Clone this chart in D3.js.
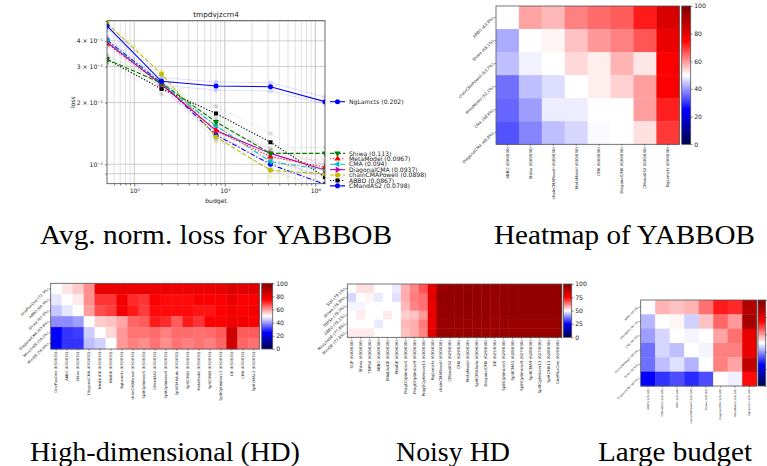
<!DOCTYPE html>
<html><head><meta charset="utf-8">
<script src="https://cdn.jsdelivr.net/npm/d3@7"></script>
<style>body{margin:0;background:#fff}svg{display:block}</style>
</head><body><svg id="c" width="767" height="466"></svg>
<script>
// ---------------- DATA ----------------
const budgets = [50, 200, 800, 3200, 12800];
const methods = ["NgLamcts","Shiwa","MetaModel","CMA","DiagonalCMA","chainCMAPowell","ABBO","CMandAS2"];
const scores  = ["0.202","0.113","0.0967","0.094","0.0937","0.0898","0.0867","0.0798"];
const lossNgLamcts       = [0.473, 0.254, 0.241, 0.239, 0.202];
const lossShiwa          = [0.325, 0.249, 0.161, 0.113, 0.113];
const lossMetaModel      = [0.388, 0.246, 0.146, 0.109, 0.0967];
const lossCMA            = [0.400, 0.247, 0.154, 0.103, 0.094];
const lossDiagonalCMA    = [0.394, 0.245, 0.146, 0.113, 0.0937];
const lossChainCMAPowell = [0.487, 0.276, 0.136, 0.0935, 0.0898];
const lossABBO           = [0.325, 0.233, 0.177, 0.128, 0.0867];
const lossCMandAS2       = [0.404, 0.249, 0.139, 0.100, 0.0798];
// faint spread lines (upper / lower)
const hiNgLamcts = [0.490, 0.265, 0.252, 0.250, 0.213], loNgLamcts = [0.455, 0.243, 0.230, 0.228, 0.197];
const hiShiwa = [0.337, 0.257, 0.168, 0.120, 0.121], loShiwa = [0.313, 0.240, 0.154, 0.106, 0.105];
const hiMetaModel = [0.400, 0.255, 0.153, 0.116, 0.103], loMetaModel = [0.375, 0.237, 0.139, 0.102, 0.090];
const hiCMA = [0.414, 0.256, 0.161, 0.109, 0.100], loCMA = [0.387, 0.238, 0.147, 0.097, 0.088];
const hiDiagonalCMA = [0.407, 0.254, 0.153, 0.119, 0.100], loDiagonalCMA = [0.381, 0.236, 0.139, 0.105, 0.087];
const hiChainCMAPowell = [0.500, 0.287, 0.144, 0.100, 0.096], loChainCMAPowell = [0.474, 0.265, 0.128, 0.087, 0.084];
const hiABBO = [0.341, 0.245, 0.192, 0.1415, 0.095], loABBO = [0.310, 0.220, 0.163, 0.116, 0.079];
const hiCMandAS2 = [0.418, 0.258, 0.146, 0.106, 0.085], loCMandAS2 = [0.390, 0.240, 0.132, 0.094, 0.075];
const xTickValues = [100, 1000, 10000];
const xTickLabels = ["10²", "10³", "10⁴"];
const yTickValues = [0.1, 0.2, 0.3, 0.4];
const yTickLabels = ["10⁻¹", "2 × 10⁻¹", "3 × 10⁻¹", "4 × 10⁻¹"];

// Heatmap: YABBOB
const yabRows = ["ABBO (63.8%)","Shiwa (58.1%)","chainCMAPowell (53.7%)","MetaModel (52.1%)","CMA (50.4%)","DiagonalCMA (48.0%)"];
const yabCols = ["ABBO (630/630)","Shiwa (630/630)","chainCMAPowell (630/630)","MetaModel (630/630)","CMA (630/630)","DiagonalCMA (630/630)","CMandAS2 (630/630)","NgLamcts (630/630)"];
const yabVals = [
  [50, 59, 57, 62.5, 64.5, 66, 72.5, 82.5],
  [41.7, 50, 51, 56, 60, 62.5, 66.7, 79],
  [43.7, 48.7, 50, 53.7, 51.7, 57.5, 52.5, 76],
  [36, 43.7, 46.7, 50, 51.7, 54.5, 59.5, 76],
  [35, 40.5, 48.2, 48.2, 50, 50, 59.5, 72],
  [33, 38, 43.7, 46, 49.6, 50, 53, 69.5]
];
// Heatmap: High-dimensional
const hdRows = ["OnePlusOne (72.3%)","ABBO (69.3%)","Shiwa (67.9%)","DiagonalCMA (63.8%)","MiniLhsDE (58.2%)","MiniDE (56.6%)"];
const hdCols = ["OnePlusOne (630/630)","ABBO (630/630)","Shiwa (630/630)","DiagonalCMA (630/630)","MiniLhsDE (630/630)","MiniDE (630/630)","NgLamcts (630/630)","chainCMAPowell (630/630)","SplitOptimizer5 (630/630)","CMandAS2 (630/630)","SplitOptimizer9 (630/630)","SplitCMAAuto (630/630)","SplitCMA5 (630/630)","MetaModel (630/630)","SplitCMA9 (630/630)","SplitOptimizer13 (630/630)","DE (630/630)","CMA (630/630)","SplitCMA13 (630/630)"];
const hdVals = [
  [50, 52.5, 55, 61, 79, 79, 80, 79, 79, 79, 79, 79, 79, 79, 79, 80, 82, 81, 81],
  [47.5, 50, 52, 61, 70, 70, 77.5, 71, 70, 76, 74, 74, 74, 76, 76, 76, 79, 76, 76],
  [44.5, 47.5, 50, 59.5, 67.5, 69, 77, 72.5, 69, 74, 74, 74, 74, 73, 73, 75, 77, 76, 77],
  [38.7, 38.7, 40.5, 50, 55, 56, 58.7, 65, 66, 72.5, 71, 66, 72.5, 70, 75, 75, 78, 77, 76],
  [25, 30, 31, 45, 50, 53.7, 60, 63.7, 63.7, 64.5, 62.5, 64.5, 64.5, 64, 64.5, 66, 85, 66, 66],
  [24, 30, 30, 43.7, 45.5, 50, 60, 62.5, 61, 63.7, 61, 63.7, 62.5, 63.7, 62.5, 65, 85, 65, 64]
];
// Heatmap: Noisy HD
const nhdRows = ["SQP (79.1%)","Shiwa (78.9%)","TBPSA (78.7%)","ABBO (78.1%)","MiniLhsDE (77.9%)","MiniDE (77.8%)"];
const nhdCols = ["SQP (630/630)","Shiwa (630/630)","TBPSA (630/630)","ABBO (630/630)","MiniLhsDE (630/630)","MiniDE (630/630)","ProgDOptimizer5 (630/630)","ProgDOptimizer9 (630/630)","ProgDOptimizer13 (630/630)","NgLamcts (630/630)","chainCMAPowell (630/630)","CMandAS2 (629/630)","CMA (629/630)","MetaModel (630/630)","SplitCMAAuto (630/630)","DiagonalCMA (629/630)","DE (625/630)","SplitOptimizer5 (629/630)","SplitCMA5 (628/630)","SplitOptimizer9 (627/630)","SplitCMA9 (628/630)","SplitOptimizer13 (627/630)","SplitCMA13 (628/630)","OnePlusOne (619/630)"];
const nhdVals = [
  [50, 53, 53, 50, 50, 48, 58, 62, 67, 80, 95, 96, 96, 96, 96, 96, 96, 95, 96, 96, 96, 96, 96, 96],
  [46, 50, 51, 48, 50, 47, 58, 63, 64, 81, 96, 97, 96, 97, 96, 96, 95, 96, 96, 96, 96, 96, 96, 96],
  [49, 49, 50, 50, 50, 50, 57, 62, 64, 80, 96, 96, 96, 96, 96, 96, 95, 96, 96, 96, 96, 96, 96, 96],
  [50, 52, 50, 50, 52, 50, 55, 56, 60, 80, 95, 96, 95, 96, 96, 96, 95, 95, 96, 96, 96, 96, 96, 96],
  [50, 50, 50, 48, 50, 50, 57, 58, 63, 80, 95, 95, 95, 95, 95, 95, 94, 95, 95, 95, 95, 95, 95, 95],
  [52, 52, 52, 50, 50, 50, 56, 58, 62, 81, 95, 95, 95, 96, 95, 95, 95, 95, 95, 95, 95, 95, 95, 95]
];
// Heatmap: Large budget
const lbRows = ["ABBO (66.4%)","CMandAS2 (59.1%)","CMA (56.3%)","chainCMAPowell (55.2%)","Shiwa (53.9%)","DiagonalCMA (38.2%)"];
const lbCols = ["ABBO (120/120)","CMandAS2 (120/120)","CMA (120/120)","chainCMAPowell (120/120)","Shiwa (120/120)","DiagonalCMA (120/120)","MetaModel (120/120)","NgLamcts (120/120)"];
const lbVals = [
  [50, 57.5, 56, 57.5, 64, 72.5, 71, 90],
  [43, 50, 51, 45.5, 56, 65, 60, 92],
  [40.5, 46, 50, 49, 50, 59, 64, 80],
  [36, 46, 43.7, 50, 49, 62.5, 62.5, 79],
  [36, 43.7, 47, 42.5, 50, 62.5, 59, 87.5],
  [25, 30, 32.5, 29, 32.5, 50, 48.5, 74]
];
const captions = ["Avg. norm. loss for YABBOB","Heatmap of YABBOB","High-dimensional (HD)","Noisy HD","Large budget"];

// ---------------- DRAW ----------------
const svg = d3.select("#c");
svg.append("rect").attr("width",767).attr("height",466).attr("fill","#fff");
const SANS = "DejaVu Sans, sans-serif";

// ---- line chart ----
const L = {x0:107, x1:325, y0:20.7, y1:183.7};
const x = d3.scaleLog().domain([50,12800]).range([L.x0,L.x1]);
const y = d3.scaleLog().domain([0.0804,0.5017]).range([L.y1,L.y0]);
const styles = {
  NgLamcts:{c:"#0000ff",d:null,m:"o"},
  Shiwa:{c:"#008000",d:"4.5,2",m:"v"},
  MetaModel:{c:"#ff0000",d:"1.2,1.8",m:"^"},
  CMA:{c:"#00bfbf",d:"5,2,1.2,2",m:"<"},
  DiagonalCMA:{c:"#bf00bf",d:null,m:">"},
  chainCMAPowell:{c:"#bfbf00",d:"4.5,2",m:"o"},
  ABBO:{c:"#000000",d:"1.2,1.8",m:"s"},
  CMandAS2:{c:"#0000ff",d:"5,2,1.2,2",m:"o"}
};
const lossTable = {NgLamcts:lossNgLamcts,Shiwa:lossShiwa,MetaModel:lossMetaModel,CMA:lossCMA,DiagonalCMA:lossDiagonalCMA,chainCMAPowell:lossChainCMAPowell,ABBO:lossABBO,CMandAS2:lossCMandAS2};
const hiTable = {NgLamcts:hiNgLamcts,Shiwa:hiShiwa,MetaModel:hiMetaModel,CMA:hiCMA,DiagonalCMA:hiDiagonalCMA,chainCMAPowell:hiChainCMAPowell,ABBO:hiABBO,CMandAS2:hiCMandAS2};
const loTable = {NgLamcts:loNgLamcts,Shiwa:loShiwa,MetaModel:loMetaModel,CMA:loCMA,DiagonalCMA:loDiagonalCMA,chainCMAPowell:loChainCMAPowell,ABBO:loABBO,CMandAS2:loCMandAS2};

svg.append("defs").append("clipPath").attr("id","lc").append("rect")
  .attr("x",L.x0).attr("y",L.y0).attr("width",L.x1-L.x0).attr("height",L.y1-L.y0);

// grid
const gGrid = svg.append("g");
const xMinor = [];
for (let k=1;k<=4;k++) for (let m=2;m<=9;m++){const v=m*Math.pow(10,k); if(v>50&&v<12800) xMinor.push(v);}
gGrid.selectAll(".xm").data(xMinor).join("line").attr("x1",d=>x(d)).attr("x2",d=>x(d)).attr("y1",L.y0).attr("y2",L.y1)
  .attr("stroke","#d4d4d4").attr("stroke-width",0.7);
gGrid.selectAll(".xM").data(xTickValues).join("line").attr("x1",d=>x(d)).attr("x2",d=>x(d)).attr("y1",L.y0).attr("y2",L.y1)
  .attr("stroke","#b8b8b8").attr("stroke-width",0.8);
const yGrid = [0.09,0.1,0.2,0.3,0.4,0.5];
gGrid.selectAll(".yg").data(yGrid).join("line").attr("x1",L.x0).attr("x2",L.x1).attr("y1",d=>y(d)).attr("y2",d=>y(d))
  .attr("stroke","#c4c4c4").attr("stroke-width",0.8);

function sym(m){
  const s = {o:d3.symbolCircle,s:d3.symbolSquare,v:d3.symbolTriangle,"^":d3.symbolTriangle,"<":d3.symbolTriangle,">":d3.symbolTriangle}[m];
  const size = m==="o"?20:(m==="s"?17:17);
  return d3.symbol().type(s).size(size)();
}
function rot(m){return {v:180,"^":0,"<":-90,">":90}[m]||0;}

const gData = svg.append("g").attr("clip-path","url(#lc)");
const line = d3.line().x((d,i)=>x(budgets[i])).y(d=>y(d));
// faint spread lines
methods.forEach(name=>{
  const st = styles[name];
  [hiTable[name], loTable[name]].forEach(arr=>{
    gData.append("path").attr("d",line(arr)).attr("fill","none").attr("stroke",st.c)
      .attr("stroke-opacity",0.12).attr("stroke-width",1).attr("stroke-dasharray",st.d);
    gData.selectAll(null).data(arr).join("path").attr("d",sym(st.m))
      .attr("transform",(d,i)=>`translate(${x(budgets[i])},${y(d)}) rotate(${rot(st.m)})`)
      .attr("fill",st.c).attr("fill-opacity",0.12);
  });
});
// main lines, drawn in reverse so NgLamcts on top
methods.slice().reverse().forEach(name=>{
  const st = styles[name], arr = lossTable[name];
  gData.append("path").attr("d",line(arr)).attr("fill","none").attr("stroke",st.c)
    .attr("stroke-width",1.1).attr("stroke-dasharray",st.d);
  gData.selectAll(null).data(arr).join("path").attr("d",sym(st.m))
    .attr("transform",(d,i)=>`translate(${x(budgets[i])},${y(d)}) rotate(${rot(st.m)})`)
    .attr("fill",st.c);
});

// axes
const xAxis = d3.axisBottom(x).tickValues(xTickValues).tickFormat((d,i)=>xTickLabels[i]).tickSize(3).tickPadding(2);
const gx = svg.append("g").attr("transform",`translate(0,${L.y1})`).call(xAxis);
const xAxisMinor = d3.axisBottom(x).tickValues(xMinor).tickFormat("").tickSize(1.8);
const gxm = svg.append("g").attr("transform",`translate(0,${L.y1})`).call(xAxisMinor);
const yAxis = d3.axisLeft(y).tickValues(yTickValues).tickFormat((d,i)=>yTickLabels[i]).tickSize(2).tickPadding(2);
const gy = svg.append("g").attr("transform",`translate(${L.x0},0)`).call(yAxis);
const yAxisMinor = d3.axisLeft(y).tickValues([0.09,0.5]).tickFormat("").tickSize(1.8);
const gym = svg.append("g").attr("transform",`translate(${L.x0},0)`).call(yAxisMinor);
[gx,gxm,gy,gym].forEach(g=>{
  g.select(".domain").remove();
  g.selectAll("line").attr("stroke","#333").attr("stroke-width",0.6);
  g.selectAll("text").attr("font-family",SANS).attr("font-size",6.1).attr("fill","#222");
});
svg.append("rect").attr("x",L.x0).attr("y",L.y0).attr("width",L.x1-L.x0).attr("height",L.y1-L.y0)
  .attr("fill","none").attr("stroke","#444").attr("stroke-width",0.8);
svg.append("text").attr("x",(L.x0+L.x1)/2).attr("y",17).attr("text-anchor","middle")
  .attr("font-family",SANS).attr("font-size",7.3).attr("fill","#222").text("tmpdvjzcrn4");
svg.append("text").attr("x",(L.x0+L.x1)/2).attr("y",203).attr("text-anchor","middle")
  .attr("font-family",SANS).attr("font-size",6.1).attr("fill","#222").text("budget");
svg.append("text").attr("transform",`translate(75,${(L.y0+L.y1)/2}) rotate(-90)`).attr("text-anchor","middle")
  .attr("font-family",SANS).attr("font-size",6.1).attr("fill","#222").text("loss");

// legend: groups of labels spread between their final values
const fin = methods.map((n,i)=>({n,i,v:lossTable[n][lossTable[n].length-1]})).sort((a,b)=>b.v-a.v);
const groups=[]; fin.forEach(f=>{const g=groups[groups.length-1]; if(g && y(f.v)-y(g[g.length-1].v)<25) g.push(f); else groups.push([f]);});
const legendY = {};
groups.forEach(g=>{
  const top=y(g[0].v), bot=Math.min(y(g[g.length-1].v)+1.5, 187);
  g.forEach((f,k)=>{legendY[f.n] = g.length===1?top:top+(bot-top)*k/(g.length-1);});
});
const gLeg = svg.append("g");
methods.forEach((name,i)=>{
  const st=styles[name], yy=legendY[name];
  gLeg.append("line").attr("x1",330).attr("x2",345).attr("y1",yy).attr("y2",yy).attr("stroke",st.c)
    .attr("stroke-width",1.1).attr("stroke-dasharray",st.d);
  gLeg.append("path").attr("d",sym(st.m)).attr("transform",`translate(337.5,${yy}) rotate(${rot(st.m)})`).attr("fill",st.c);
  gLeg.append("text").attr("x",349).attr("y",yy).attr("dy","0.36em").attr("font-family",SANS).attr("font-size",6.1)
    .attr("fill","#222").text(`${name} (${scores[i]})`);
});

// ---- heatmaps ----
const color = d3.scaleLinear().domain([0,25,50,75,100]).range(["#00004c","#0000ff","#ffffff","#ff0000","#800000"]);
const grad = svg.select("defs").append("linearGradient").attr("id","seis").attr("x1",0).attr("y1",1).attr("x2",0).attr("y2",0);
[0,25,50,75,100].forEach(v=>grad.append("stop").attr("offset",v/100).attr("stop-color",color(v)));

function heatmap(c){
  const g = svg.append("g");
  const xb = d3.scaleBand().domain(c.cols).range([c.x0,c.x1]);
  const yb = d3.scaleBand().domain(c.rows).range([c.y0,c.y1]);
  const cells = [];
  c.vals.forEach((row,i)=>row.forEach((v,j)=>cells.push({r:c.rows[i],c:c.cols[j],v})));
  g.selectAll("rect.cell").data(cells).join("rect").attr("class","cell")
    .attr("x",d=>xb(d.c)).attr("y",d=>yb(d.r)).attr("width",xb.bandwidth()+0.4).attr("height",yb.bandwidth()+0.4)
    .attr("fill",d=>color(d.v));
  g.append("rect").attr("x",c.x0).attr("y",c.y0).attr("width",c.x1-c.x0).attr("height",c.y1-c.y0)
    .attr("fill","none").attr("stroke","#555").attr("stroke-width",0.8);
  const ax = g.append("g").attr("transform",`translate(0,${c.y1})`).call(d3.axisBottom(xb).tickSize(1.8).tickSizeOuter(0));
  ax.selectAll("text").attr("x",0).attr("y",0).attr("dy","0.35em")
    .attr("transform",`translate(0,${2.8}) rotate(-90)`).style("text-anchor","end");
  const ay = g.append("g").attr("transform",`translate(${c.x0},0)`).call(d3.axisLeft(yb).tickSize(1.8).tickSizeOuter(0));
  ay.selectAll("text").attr("x",0).attr("y",0).attr("dy","0.3em")
    .attr("transform",`translate(-2.8,0) rotate(-45)`).style("text-anchor","end");
  [ax,ay].forEach(a=>{a.select(".domain").remove();
    a.selectAll("line").attr("stroke","#333").attr("stroke-width",0.5);
    a.selectAll("text").attr("font-family",SANS).attr("font-size",c.ls).attr("fill","#222");});
  // colorbar
  g.append("rect").attr("x",c.cb0).attr("y",c.y0).attr("width",c.cb1-c.cb0).attr("height",c.y1-c.y0)
    .attr("fill","url(#seis)").attr("stroke","#555").attr("stroke-width",0.8);
  const cs = d3.scaleLinear().domain([0,100]).range([c.y1,c.y0]);
  const ac = g.append("g").attr("transform",`translate(${c.cb1},0)`).call(d3.axisRight(cs).tickValues(c.cbt).tickSize(2).tickPadding(1.5));
  ac.select(".domain").remove();
  ac.selectAll("line").attr("stroke","#333").attr("stroke-width",0.5);
  ac.selectAll("text").attr("font-family",SANS).attr("font-size",6.1).attr("fill","#222");
}
heatmap({rows:yabRows,cols:yabCols,vals:yabVals,x0:496,x1:679.3,y0:6,y1:144.3,cb0:681.7,cb1:690.7,cbt:[0,20,40,60,80,100],ls:3.9});
heatmap({rows:hdRows,cols:hdCols,vals:hdVals,x0:50.7,x1:259.3,y0:283.3,y1:349,cb0:261.7,cb1:272.7,cbt:[0,20,40,60,80,100],ls:3.6});
heatmap({rows:nhdRows,cols:nhdCols,vals:nhdVals,x0:347.3,x1:561.7,y0:284,y1:337.3,cb0:563.3,cb1:571.7,cbt:[0,25,50,75,100],ls:3.9});
heatmap({rows:lbRows,cols:lbCols,vals:lbVals,x0:640.7,x1:756.7,y0:300,y1:386,cb0:758,cb1:765.7,cbt:[0,20,40,60,80,100],ls:2.6});

// ---- captions ----
const SERIF = "Liberation Serif, DejaVu Serif, serif";
const capPos = [
  {x:40, y:244, w:352},
  {x:494, y:244, w:261},
  {x:30, y:461, w:270},
  {x:396, y:461, w:114},
  {x:598, y:461, w:154}
];
captions.forEach((t,i)=>{
  svg.append("text").attr("x",capPos[i].x).attr("y",capPos[i].y).attr("font-family",SERIF).attr("font-size",27)
    .attr("textLength",capPos[i].w).attr("lengthAdjust","spacingAndGlyphs").attr("fill","#000").text(t);
});
</script></body></html>
